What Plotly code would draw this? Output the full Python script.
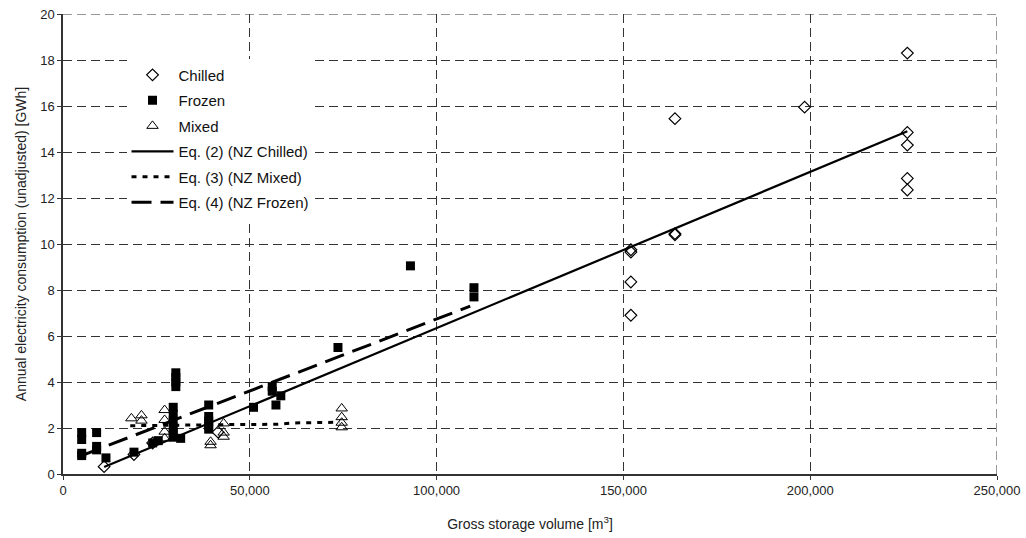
import plotly.graph_objects as go

# Measured cold stores: gross storage volume [m3] vs annual electricity [GWh]
chilled_x = [11000, 19000, 24000, 41500, 152000, 152000, 152000, 152000,
             163800, 163800, 163800, 198500, 226000, 226000, 226000, 226000, 226000]
chilled_y = [0.32, 0.85, 1.35, 1.82, 9.75, 9.65, 8.35, 6.9,
             10.45, 10.4, 15.45, 15.95, 18.3, 14.85, 14.3, 12.85, 12.35]

frozen_x = [5000, 5000, 5000, 5000, 9000, 9000, 9000, 11500, 19000, 24000, 25500,
            29500, 29500, 29500, 29500, 29500, 29500, 30200, 30200, 30200, 30200,
            31500, 39000, 39000, 39000, 39000, 39000, 51000, 56000, 56000, 57000,
            58300, 73600, 93000, 110000, 110000]
frozen_y = [1.8, 1.5, 0.9, 0.8, 1.8, 1.2, 1.05, 0.7, 0.95, 1.35, 1.45,
            2.9, 2.6, 2.3, 2.0, 1.8, 1.6, 4.4, 4.2, 4.0, 3.8,
            1.55, 3.0, 2.5, 2.3, 2.1, 1.95, 2.9, 3.8, 3.6, 3.0,
            3.4, 5.5, 9.05, 8.1, 7.7]

mixed_x = [18300, 21000, 21000, 27200, 27200, 27200, 27200, 39500, 39500,
           43000, 43000, 43000, 74600, 74600, 74600, 74600]
mixed_y = [2.42, 2.55, 2.32, 2.78, 2.35, 1.84, 1.55, 1.4, 1.25,
           2.2, 1.8, 1.62, 2.85, 2.47, 2.23, 2.03]

# Fitted relationships
eq2_x = [11000, 226000]
eq2_y = [0.3, 14.9]
eq3_x = [18000, 30000, 45000, 57000, 62000, 74000]
eq3_y = [2.1, 2.13, 2.15, 2.16, 2.22, 2.25]
eq4_x = [5000, 109000]
eq4_y = [0.8, 7.3]

x_ticks = [0, 50000, 100000, 150000, 200000, 250000]
x_tick_text = ["0", "50,000", "100,000", "150,000", "200,000", "250,000"]
y_ticks = [0, 2, 4, 6, 8, 10, 12, 14, 16, 18, 20]

font = "Liberation Sans, Arial, sans-serif"
ink = "#000000"
grid = "#333333"
grid_dash = "9px,5px"

fig = go.Figure()
fig.add_trace(go.Scatter(
    x=chilled_x, y=chilled_y, mode="markers", name="Chilled", legendgroup="a",
    marker=dict(symbol="diamond-open", size=9, color=ink, line=dict(width=1.2, color=ink))))
fig.add_trace(go.Scatter(
    x=frozen_x, y=frozen_y, mode="markers", name="Frozen", legendgroup="b",
    marker=dict(symbol="square", size=9, color=ink, line=dict(width=0))))
fig.add_trace(go.Scatter(
    x=mixed_x, y=mixed_y, mode="markers", name="Mixed", legendgroup="c",
    marker=dict(symbol="triangle-up-open", size=10, color=ink, line=dict(width=1, color=ink))))
fig.add_trace(go.Scatter(
    x=eq2_x, y=eq2_y, mode="lines", name="Eq. (2) (NZ Chilled)", legendgroup="d",
    line=dict(color=ink, width=2.2)))
fig.add_trace(go.Scatter(
    x=eq3_x, y=eq3_y, mode="lines", name="Eq. (3) (NZ Mixed)", legendgroup="e",
    line=dict(color=ink, width=3, dash="5px,6px")))
fig.add_trace(go.Scatter(
    x=eq4_x, y=eq4_y, mode="lines", name="Eq. (4) (NZ Frozen)", legendgroup="f",
    line=dict(color=ink, width=3, dash="20px,9px")))

# Dashed grid lines on the outer edges (top and right) of the plot frame
x_max, y_max = x_ticks[-1], y_ticks[-1]
fig.add_shape(type="line", xref="x", yref="y", x0=0, x1=x_max, y0=y_max, y1=y_max,
              line=dict(color=grid, width=1, dash=grid_dash), layer="below")
fig.add_shape(type="line", xref="x", yref="y", x0=x_max, x1=x_max, y0=0, y1=y_max,
              line=dict(color=grid, width=1, dash=grid_dash), layer="below")

fig.update_layout(
    width=1026, height=538,
    margin=dict(l=63, r=29, t=14, b=64),
    paper_bgcolor="white", plot_bgcolor="white",
    font=dict(family=font, size=13, color="#222"),
    showlegend=True,
    legend=dict(
        x=0.068, y=0.903, xanchor="left", yanchor="top",
        bgcolor="white", borderwidth=0,
        font=dict(family=font, size=15, color="#111"),
        traceorder="grouped", tracegroupgap=3, itemwidth=42,
    ),
    xaxis=dict(
        range=[0, 250000], tickvals=x_ticks, ticktext=x_tick_text,
        automargin=False,
        showgrid=True, gridcolor=grid, griddash=grid_dash, gridwidth=1,
        showline=True, linecolor="#333", linewidth=1.5,
        ticks="outside", ticklen=4, tickcolor="#333",
        zeroline=False,
        title=dict(text="Gross storage volume [m<sup>3</sup>]",
                   font=dict(family=font, size=14, color="#222"), standoff=22),
        tickfont=dict(family=font, size=13, color="#222"),
    ),
    yaxis=dict(
        range=[0, 20], tickvals=y_ticks,
        automargin=False,
        showgrid=True, gridcolor=grid, griddash=grid_dash, gridwidth=1,
        showline=True, linecolor="#333", linewidth=1.5,
        ticks="outside", ticklen=4, tickcolor="#333",
        zeroline=False,
        title=dict(text="Annual electricity consumption (unadjusted) [GWh]",
                   font=dict(family=font, size=14, color="#222"), standoff=10),
        tickfont=dict(family=font, size=13, color="#222"),
    ),
)

fig.write_html("out.html")
